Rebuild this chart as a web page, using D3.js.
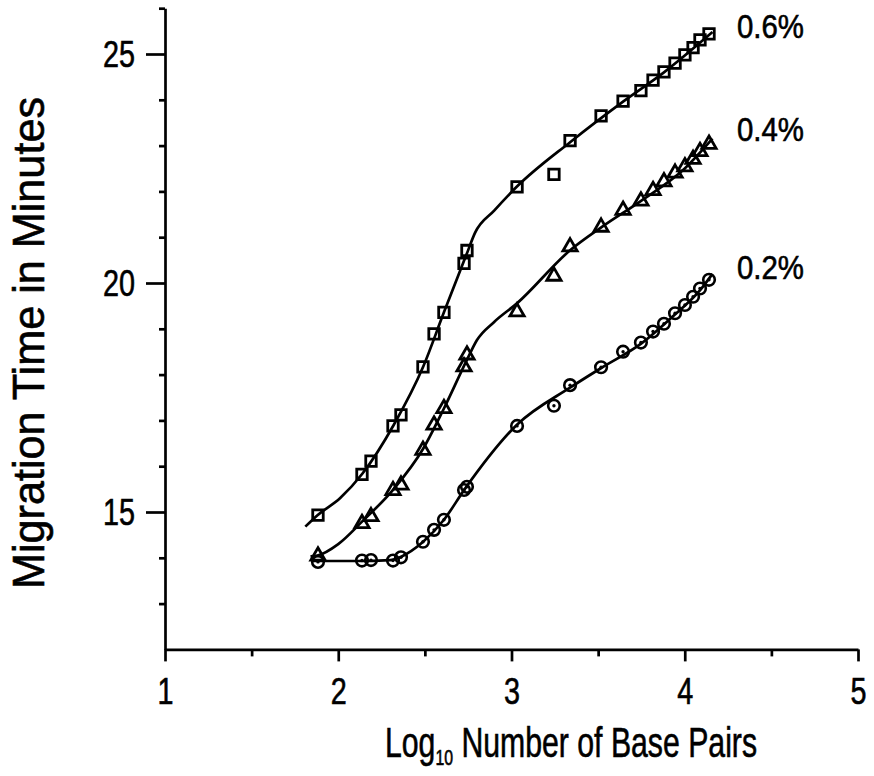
<!DOCTYPE html>
<html>
<head>
<meta charset="utf-8">
<script src="https://cdn.jsdelivr.net/npm/d3@7"></script>
<style>
  body { margin: 0; background: #fff; }
  svg { display: block; }
  text { font-family: "Liberation Sans", Arial, sans-serif; fill: #000; stroke: #000; stroke-width: 0.6px; }
</style>
</head>
<body>
<svg id="chart" width="874" height="776"></svg>
<script>
// log10 of fragment size (same ladder for every gel)
const fragmentLog = [1.883, 2.137, 2.189, 2.316, 2.362, 2.489, 2.553, 2.610, 2.726, 2.743,
  3.032, 3.245, 3.338, 3.517, 3.644, 3.747, 3.817, 3.880, 3.944, 4.001, 4.048, 4.088, 4.140];

// migration time (minutes) per polymer concentration
const time06 = [14.93, 15.82, 16.11, 16.88, 17.12, 18.17, 18.89, 19.36, 20.43, 20.71,
  22.10, 22.37, 23.11, 23.65, 23.97, 24.20, 24.43, 24.61, 24.80, 24.98, 25.14, 25.31, 25.44];
const time04 = [14.04, 14.75, 14.90, 15.47, 15.59, 16.35, 16.90, 17.26, 18.17, 18.43,
  19.37, 20.15, 20.79, 21.22, 21.59, 21.79, 22.02, 22.21, 22.40, 22.54, 22.70, 22.87, 23.03];
const time02 = [13.91, 13.94, 13.95, 13.94, 14.01, 14.35, 14.61, 14.83, 15.48, 15.55,
  16.88, 17.32, 17.77, 18.16, 18.50, 18.70, 18.94, 19.11, 19.34, 19.52, 19.70, 19.88, 20.07];

// fitted curves
const fit06 = [[1.81, 14.68], [1.88, 14.93], [2.01, 15.30], [2.14, 15.84], [2.32, 16.90], [2.49, 18.17],
  [2.61, 19.36], [2.74, 20.62], [2.79, 21.10], [2.90, 21.58], [3.03, 22.10], [3.34, 23.08], [3.64, 23.95],
  [3.88, 24.60], [4.16, 25.48]];
const fit04 = [[1.84, 14.03], [1.88, 14.05], [2.0, 14.30], [2.14, 14.80], [2.32, 15.50], [2.49, 16.38],
  [2.61, 17.26], [2.74, 18.30], [2.80, 18.75], [2.90, 19.15], [3.03, 19.55], [3.34, 20.72],
  [3.52, 21.22], [3.75, 21.80], [4.0, 22.50], [4.16, 23.15]];
const fit02 = [[1.85, 13.93], [2.1, 13.93], [2.3, 13.95], [2.36, 14.02], [2.49, 14.35], [2.61, 14.83],
  [2.73, 15.50], [3.03, 16.90], [3.34, 17.72], [3.52, 18.15], [3.75, 18.68], [3.94, 19.30], [4.09, 19.85], [4.16, 20.20]];

const seriesLabels = ['0.6%', '0.4%', '0.2%'];
const xTicks = [1, 2, 3, 4, 5];
const xMinorTicks = [1.5, 2.5, 3.5, 4.5];
const yTicks = [15, 20, 25];
const yMinorTicks = [13, 14, 16, 17, 18, 19, 21, 22, 23, 24, 26];

const svg = d3.select('#chart');

const x = d3.scaleLinear().domain([1, 5]).range([165, 858]);
const y = d3.scaleLinear().domain([12, 26]).range([649.4, 8.2]);

// axes
const yAxis = svg.append('g').attr('transform', `translate(${ x(1) },0)`);
yAxis.call(d3.axisLeft(y).tickValues(yTicks).tickSize(19).tickSizeOuter(0).tickPadding(11));
yAxis.append('g').call(d3.axisLeft(y).tickValues(yMinorTicks).tickSize(6).tickFormat(''))
  .select('.domain').remove();

const xAxis = svg.append('g').attr('transform', `translate(0,${ y(12) })`);
xAxis.call(d3.axisBottom(x).tickValues(xTicks).tickFormat(d3.format('d')).tickSize(12).tickSizeOuter(0).tickPadding(17));
xAxis.append('g').call(d3.axisBottom(x).tickValues(xMinorTicks).tickSize(7).tickFormat(''))
  .select('.domain').remove();

svg.selectAll('.domain, .tick line').attr('stroke', '#000').attr('stroke-width', 2.7);
svg.selectAll('.tick text')
  .style('font-size', '36px')
  .attr('fill', '#000')
  .attr('textLength', function() { return this.textContent.length * 16; })
  .attr('lengthAdjust', 'spacingAndGlyphs');
yAxis.selectAll('.tick text').attr('dy', '0.36em');

// curves
const line = d3.line().x(d => x(d[0])).y(d => y(d[1])).curve(d3.curveMonotoneX);
[fit06, fit04, fit02].forEach(fit =>
{
  svg.append('path')
    .attr('d', line(fit))
    .attr('fill', 'none')
    .attr('stroke', '#000')
    .attr('stroke-width', 2.7);
});

// markers
const pts = ys => fragmentLog.map((v, i) => ({ x: v, y: ys[i] }));

svg.append('g').selectAll('path')
  .data(pts(time06))
  .enter()
  .append('path')
  .attr('d', d3.symbol().type(d3.symbolSquare).size(110))
  .attr('transform', d => `translate(${ x(d.x) },${ y(d.y) })`)
  .attr('fill', 'none')
  .attr('stroke', '#000')
  .attr('stroke-width', 2.8);

svg.append('g').selectAll('path')
  .data(pts(time04))
  .enter()
  .append('path')
  .attr('d', d3.symbol().type(d3.symbolTriangle).size(88))
  .attr('transform', d => `translate(${ x(d.x) },${ y(d.y) })`)
  .attr('fill', 'none')
  .attr('stroke', '#000')
  .attr('stroke-width', 2.8);

const circ = svg.append('g').selectAll('g')
  .data(pts(time02))
  .enter()
  .append('g')
  .attr('transform', d => `translate(${ x(d.x) },${ y(d.y) })`);
circ.append('circle').attr('r', 5.8).attr('fill', 'none').attr('stroke', '#000').attr('stroke-width', 2.6);
circ.append('circle').attr('r', 1.7).attr('fill', '#000');

// series labels at the end of each curve
const labelY = [25.6, 23.35, 20.35];
svg.append('g').selectAll('text')
  .data(seriesLabels)
  .enter()
  .append('text')
  .attr('x', 737)
  .attr('y', (d, i) => y(labelY[i]))
  .attr('dy', '0.36em')
  .style('font-size', '33px')
  .attr('textLength', 67)
  .attr('lengthAdjust', 'spacingAndGlyphs')
  .text(d => d);

// axis titles
const xTitle = svg.append('g')
  .attr('transform', 'translate(571,757) scale(0.72,1)')
  .append('text')
  .attr('text-anchor', 'middle')
  .style('font-size', '42px');
xTitle.append('tspan').text('Log');
xTitle.append('tspan').attr('dy', 8).style('font-size', '22px').text('10');
xTitle.append('tspan').attr('dy', -8).text(' Number of Base Pairs');

svg.append('text')
  .attr('transform', 'translate(44,343) rotate(-90)')
  .attr('text-anchor', 'middle')
  .style('font-size', '45px')
  .attr('textLength', 492)
  .attr('lengthAdjust', 'spacingAndGlyphs')
  .text('Migration Time in Minutes');
</script>
</body>
</html>
